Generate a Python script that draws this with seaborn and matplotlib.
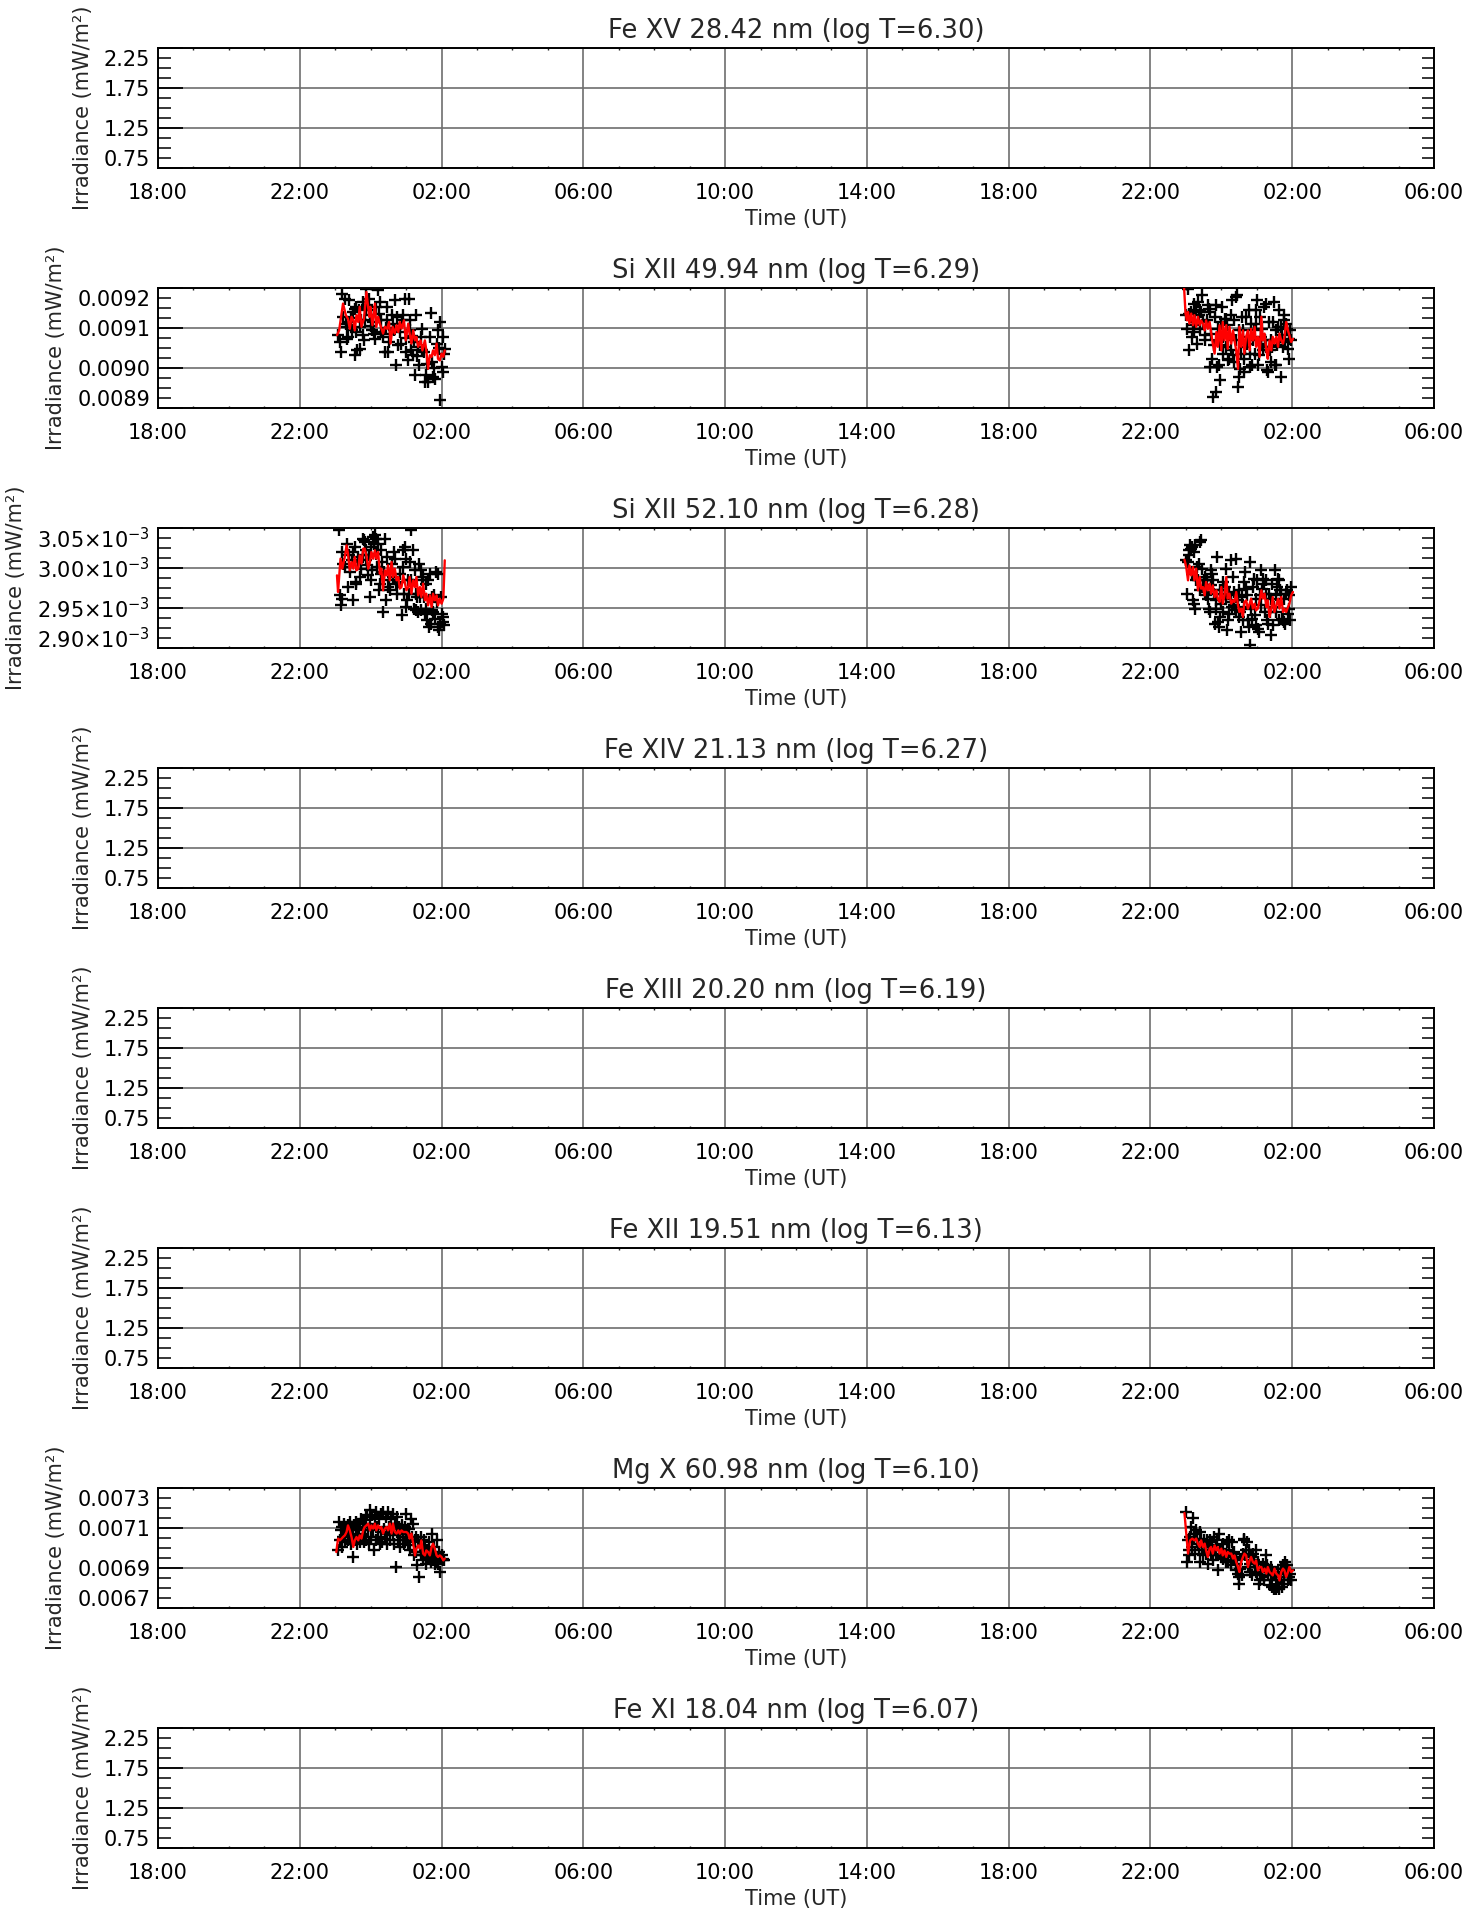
import numpy as np
import pandas as pd
import matplotlib
matplotlib.use("Agg")
import matplotlib.pyplot as plt
import matplotlib.ticker as mticker
import matplotlib.transforms as mtransforms
import seaborn as sns

# ---------------------------------------------------------------- data
titles = [
    "Fe XV 28.42 nm (log T=6.30)",
    "Si XII 49.94 nm (log T=6.29)",
    "Si XII 52.10 nm (log T=6.28)",
    "Fe XIV 21.13 nm (log T=6.27)",
    "Fe XIII 20.20 nm (log T=6.19)",
    "Fe XII 19.51 nm (log T=6.13)",
    "Mg X 60.98 nm (log T=6.10)",
    "Fe XI 18.04 nm (log T=6.07)",
]
# time axis: hours after 18:00 UT of the first day
hour_ticks = [0, 4, 8, 12, 16, 20, 24, 28, 32, 36]
hour_labels = ["18:00", "22:00", "02:00", "06:00", "10:00", "14:00",
               "18:00", "22:00", "02:00", "06:00"]

empty_ticks = [0.75, 1.25, 1.75, 2.25]
empty_labels = ["0.75", "1.25", "1.75", "2.25"]
si49_ticks = [0.0089, 0.0090, 0.0091, 0.0092]
si49_labels = ["0.0089", "0.0090", "0.0091", "0.0092"]
si52_ticks = [2.90e-3, 2.95e-3, 3.00e-3, 3.05e-3]
si52_labels = ["2.90×10$^{-3}$", "2.95×10$^{-3}$", "3.00×10$^{-3}$", "3.05×10$^{-3}$"]
mg10_ticks = [0.0067, 0.0069, 0.0071, 0.0073]
mg10_labels = ["0.0067", "0.0069", "0.0071", "0.0073"]

# irradiance values below are in units of 1e-3 mW/m^2
# ---- Si XII 49.94 nm, window 1 (points)
si49_t1 = [5.08, 5.13, 5.16, 5.19, 5.22, 5.27, 5.32, 5.34, 5.36, 5.39,
           5.41, 5.46, 5.51, 5.55, 5.55, 5.60, 5.62, 5.67, 5.69, 5.71,
           5.77, 5.79, 5.81, 5.83, 5.88, 5.91, 5.94, 5.98, 6.02, 6.05,
           6.07, 6.12, 6.16, 6.21, 6.24, 6.26, 6.30, 6.35, 6.40, 6.45,
           6.46, 6.49, 6.52, 6.59, 6.62, 6.68, 6.71, 6.73, 6.78, 6.82,
           6.87, 6.92, 6.96, 7.01, 7.06, 7.09, 7.10, 7.12, 7.15, 7.20,
           7.23, 7.25, 7.29, 7.34, 7.37, 7.41, 7.46, 7.50, 7.53, 7.57,
           7.62, 7.67, 7.69, 7.73, 7.76, 7.81, 7.86, 7.90, 7.95, 7.97,
           8.00, 8.03, 8.05, 8.09, 5.30, 5.44, 5.58, 5.74, 5.86, 6.00,
           6.10, 6.28, 6.42, 6.55, 6.65, 6.85, 6.99, 7.18, 7.32, 7.44,
           7.60, 7.78, 7.92, 8.07]
si49_v1 = [9.083, 9.065, 9.040, 9.186, 9.128, 9.173, 9.103, 9.073, 9.078, 9.169,
           9.115, 9.094, 9.140, 9.148, 9.032, 9.153, 9.044, 9.144, 9.103, 9.048,
           9.082, 9.165, 9.069, 9.119, 9.198, 9.157, 9.173, 9.132, 9.144, 9.094,
           9.115, 9.073, 9.153, 9.194, 9.136, 9.165, 9.090, 9.078, 9.040, 9.153,
           9.119, 9.040, 9.065, 9.132, 9.111, 9.169, 9.007, 9.128, 9.057, 9.090,
           9.119, 9.132, 9.173, 9.040, 9.019, 9.173, 9.119, 9.094, 9.044, 9.032,
           9.065, 8.983, 9.132, 9.053, 9.007, 9.078, 9.098, 9.040, 8.965, 8.982,
           8.965, 9.078, 9.138, 9.015, 8.978, 8.973, 9.061, 9.094, 9.115, 8.921,
           9.003, 9.078, 8.990, 9.048, 9.110, 9.125, 9.090, 9.120, 9.150, 9.105,
           9.085, 9.120, 9.100, 9.085, 9.095, 9.060, 9.075, 9.080, 9.030, 9.045,
           9.010, 9.000, 9.050, 9.035]
# ---- Si XII 49.94 nm, window 1 (smoothed, red)
si49_rt1 = [5.05, 5.11, 5.22, 5.30, 5.36, 5.41, 5.46, 5.51, 5.55, 5.60,
            5.65, 5.69, 5.74, 5.81, 5.88, 5.96, 5.99, 6.05, 6.12, 6.16,
            6.21, 6.26, 6.35, 6.40, 6.46, 6.52, 6.56, 6.62, 6.68, 6.73,
            6.78, 6.82, 6.87, 6.94, 6.99, 7.06, 7.10, 7.15, 7.20, 7.25,
            7.29, 7.34, 7.41, 7.46, 7.53, 7.57, 7.62, 7.67, 7.72, 7.76,
            7.81, 7.86, 7.90, 7.95, 8.00, 8.05, 8.09]
si49_rv1 = [9.082, 9.094, 9.161, 9.132, 9.123, 9.098, 9.128, 9.119, 9.094, 9.132,
            9.115, 9.153, 9.103, 9.123, 9.190, 9.128, 9.153, 9.107, 9.161, 9.103,
            9.128, 9.111, 9.086, 9.103, 9.098, 9.115, 9.061, 9.103, 9.086, 9.107,
            9.090, 9.115, 9.098, 9.119, 9.069, 9.111, 9.086, 9.061, 9.094, 9.069,
            9.078, 9.053, 9.069, 9.044, 9.069, 9.044, 8.998, 9.032, 9.028, 9.044,
            9.032, 9.061, 9.023, 9.019, 9.036, 9.028, 9.044]
# ---- Si XII 49.94 nm, window 2 (points)
si49_t2 = [29.01, 29.03, 29.06, 29.08, 29.10, 29.15, 29.18, 29.20, 29.22, 29.24,
           29.27, 29.29, 29.32, 29.34, 29.37, 29.39, 29.40, 29.43, 29.46, 29.48,
           29.53, 29.55, 29.59, 29.62, 29.65, 29.67, 29.69, 29.71, 29.74, 29.76,
           29.79, 29.81, 29.84, 29.86, 29.88, 29.90, 29.93, 29.95, 29.97, 30.00,
           30.02, 30.04, 30.06, 30.09, 30.12, 30.14, 30.17, 30.18, 30.21, 30.23,
           30.26, 30.28, 30.31, 30.33, 30.35, 30.37, 30.40, 30.42, 30.45, 30.47,
           30.49, 30.51, 30.54, 30.56, 30.59, 30.61, 30.64, 30.65, 30.68, 30.70,
           30.72, 30.75, 30.78, 30.80, 30.82, 30.84, 30.87, 30.89, 30.92, 30.94,
           30.97, 30.98, 31.01, 31.03, 31.06, 31.08, 31.11, 31.13, 31.15, 31.17,
           31.20, 31.22, 31.25, 31.27, 31.29, 31.31, 31.34, 31.36, 31.39, 31.41,
           31.44, 31.45, 31.48, 31.50, 31.53, 31.55, 31.58, 31.60, 31.62, 31.64,
           31.67, 31.69, 31.72, 31.74, 31.76, 31.78, 31.81, 31.83, 31.86, 31.88,
           31.91, 31.92, 31.94, 31.97]
si49_v2 = [9.132, 9.098, 9.198, 9.136, 9.044, 9.140, 9.078, 9.107, 9.090, 9.161,
           9.115, 9.144, 9.061, 9.165, 9.132, 9.098, 9.144, 9.140, 9.182, 9.115,
           9.082, 9.069, 9.119, 9.157, 9.148, 9.003, 9.140, 9.086, 9.023, 8.928,
           9.057, 9.128, 8.940, 9.157, 9.003, 9.098, 9.007, 8.969, 9.057, 9.115,
           9.153, 9.078, 9.036, 9.123, 9.053, 9.123, 9.107, 9.019, 9.082, 9.023,
           9.132, 9.044, 9.169, 9.032, 9.119, 9.015, 9.178, 9.069, 9.182, 8.953,
           8.978, 9.094, 8.998, 9.036, 9.128, 9.094, 8.990, 9.023, 9.053, 9.128,
           9.061, 9.078, 9.144, 9.003, 9.036, 9.111, 9.007, 9.069, 9.094, 9.036,
           9.144, 9.111, 9.169, 9.007, 9.032, 9.128, 9.061, 9.078, 9.098, 9.044,
           9.153, 9.069, 9.161, 9.053, 8.994, 8.990, 9.115, 9.044, 9.069, 9.015,
           9.053, 9.115, 9.165, 9.007, 9.007, 9.094, 9.057, 9.103, 9.144, 9.069,
           9.103, 8.978, 9.082, 9.053, 9.119, 9.132, 9.065, 9.111, 9.098, 9.048,
           9.073, 9.023, 9.094, 9.069]
# ---- Si XII 49.94 nm, window 2 (smoothed, red)
si49_rt2 = [28.94, 28.99, 29.03, 29.06, 29.10, 29.15, 29.20, 29.24, 29.29, 29.34,
            29.39, 29.43, 29.48, 29.53, 29.57, 29.62, 29.67, 29.71, 29.76, 29.81,
            29.86, 29.90, 29.95, 30.00, 30.04, 30.09, 30.14, 30.18, 30.23, 30.28,
            30.33, 30.37, 30.42, 30.47, 30.51, 30.56, 30.61, 30.65, 30.70, 30.75,
            30.80, 30.84, 30.89, 30.94, 30.98, 31.03, 31.08, 31.13, 31.17, 31.22,
            31.27, 31.31, 31.36, 31.41, 31.45, 31.50, 31.55, 31.60, 31.64, 31.69,
            31.74, 31.78, 31.83, 31.88, 31.92, 31.97, 32.02]
si49_rv2 = [9.215, 9.136, 9.119, 9.140, 9.111, 9.136, 9.107, 9.132, 9.103, 9.128,
            9.107, 9.119, 9.111, 9.094, 9.119, 9.098, 9.115, 9.090, 9.061, 9.036,
            9.090, 9.053, 9.107, 9.044, 9.115, 9.069, 9.107, 9.048, 9.103, 9.061,
            9.094, 9.069, 9.044, 8.998, 9.103, 9.053, 9.094, 9.036, 9.078, 9.094,
            9.044, 9.098, 9.069, 9.103, 9.053, 9.078, 9.028, 9.128, 9.069, 9.086,
            9.044, 9.023, 9.069, 9.044, 9.078, 9.061, 9.078, 9.053, 9.086, 9.069,
            9.061, 9.078, 9.115, 9.094, 9.082, 9.065, 9.073]

# ---- Si XII 52.10 nm, window 1 (points)
si52_t1 = [5.11, 5.13, 5.15, 5.18, 5.20, 5.22, 5.27, 5.32, 5.36, 5.39,
           5.41, 5.46, 5.49, 5.51, 5.55, 5.58, 5.60, 5.63, 5.65, 5.69,
           5.74, 5.77, 5.79, 5.82, 5.83, 5.86, 5.88, 5.91, 5.93, 5.96,
           5.98, 6.01, 6.02, 6.05, 6.07, 6.10, 6.12, 6.14, 6.16, 6.19,
           6.21, 6.24, 6.26, 6.29, 6.30, 6.33, 6.35, 6.38, 6.40, 6.43,
           6.45, 6.49, 6.52, 6.54, 6.59, 6.62, 6.65, 6.68, 6.71, 6.73,
           6.78, 6.82, 6.87, 6.90, 6.92, 6.93, 6.96, 6.99, 7.01, 7.03,
           7.06, 7.09, 7.10, 7.13, 7.15, 7.20, 7.22, 7.25, 7.27, 7.29,
           7.32, 7.34, 7.37, 7.39, 7.41, 7.43, 7.46, 7.48, 7.51, 7.53,
           7.56, 7.57, 7.59, 7.62, 7.65, 7.67, 7.70, 7.72, 7.74, 7.76,
           7.79, 7.81, 7.84, 7.86, 7.89, 7.90, 7.93, 7.95, 7.98, 8.00,
           8.03, 8.05, 8.07]
si52_v1 = [3.0471, 2.9658, 2.9533, 3.0200, 2.9617, 3.0054, 3.0012, 3.0304, 2.9762, 3.0158,
           2.9950, 3.0096, 2.9596, 3.0200, 3.0263, 2.9825, 2.9804, 3.0138, 3.0075, 2.9887,
           2.9992, 3.0158, 3.0367, 3.0346, 3.0325, 3.0221, 3.0096, 3.0033, 2.9908, 3.0158,
           2.9637, 2.9846, 3.0263, 2.9971, 3.0388, 3.0304, 3.0408, 3.0367, 3.0179, 3.0012,
           3.0304, 2.9721, 2.9804, 2.9929, 3.0221, 3.0075, 2.9450, 2.9950, 3.0367, 2.9596,
           3.0138, 2.9762, 2.9846, 2.9721, 3.0054, 2.9887, 3.0200, 3.0117, 2.9804, 2.9679,
           2.9825, 2.9929, 2.9408, 3.0012, 3.0221, 2.9679, 3.0263, 2.9512, 3.0117, 2.9596,
           2.9846, 2.9679, 3.0075, 3.0471, 2.9846, 3.0221, 2.9492, 2.9971, 2.9471, 2.9679,
           2.9637, 2.9450, 3.0054, 2.9637, 2.9971, 2.9471, 2.9846, 2.9887, 2.9637, 2.9429,
           2.9804, 2.9492, 2.9346, 2.9846, 2.9262, 2.9929, 2.9304, 2.9471, 2.9637, 2.9450,
           2.9658, 2.9367, 2.9950, 2.9575, 2.9929, 2.9262, 2.9221, 2.9304, 2.9637, 2.9429,
           2.9325, 2.9388, 2.9283]
# ---- Si XII 52.10 nm, window 1 (smoothed, red)
si52_rt1 = [5.05, 5.08, 5.11, 5.15, 5.20, 5.27, 5.32, 5.36, 5.41, 5.46,
            5.51, 5.55, 5.60, 5.65, 5.69, 5.74, 5.79, 5.83, 5.88, 5.93,
            5.98, 6.02, 6.07, 6.12, 6.16, 6.21, 6.26, 6.30, 6.35, 6.40,
            6.45, 6.49, 6.54, 6.59, 6.63, 6.68, 6.73, 6.78, 6.82, 6.87,
            6.92, 6.96, 7.01, 7.06, 7.10, 7.15, 7.20, 7.25, 7.29, 7.34,
            7.39, 7.43, 7.48, 7.53, 7.57, 7.62, 7.67, 7.72, 7.76, 7.81,
            7.86, 7.90, 7.95, 8.00, 8.05, 8.09]
si52_rv1 = [2.9908, 2.9700, 2.9887, 3.0117, 2.9992, 3.0138, 3.0283, 3.0179, 2.9971, 3.0075,
            2.9992, 3.0138, 2.9971, 2.9992, 3.0158, 3.0054, 3.0242, 3.0242, 3.0158, 2.9992,
            3.0075, 3.0200, 3.0117, 3.0221, 3.0117, 3.0200, 2.9929, 2.9992, 2.9721, 2.9971,
            2.9908, 3.0033, 2.9846, 3.0075, 2.9887, 2.9992, 2.9846, 2.9887, 2.9742, 2.9762,
            2.9908, 2.9825, 2.9721, 2.9762, 2.9887, 2.9679, 2.9846, 2.9762, 2.9887, 2.9658,
            2.9762, 2.9637, 2.9804, 2.9596, 2.9679, 2.9533, 2.9658, 2.9512, 2.9679, 2.9596,
            2.9658, 2.9533, 2.9617, 2.9554, 2.9617, 3.0096]
# ---- Si XII 52.10 nm, window 2 (points)
si52_t2 = [29.01, 29.04, 29.06, 29.08, 29.10, 29.12, 29.15, 29.17, 29.18, 29.20,
           29.22, 29.23, 29.25, 29.27, 29.29, 29.32, 29.34, 29.37, 29.39, 29.40,
           29.43, 29.45, 29.48, 29.51, 29.53, 29.55, 29.57, 29.59, 29.62, 29.65,
           29.67, 29.70, 29.71, 29.74, 29.76, 29.78, 29.81, 29.84, 29.86, 29.88,
           29.90, 29.93, 29.95, 29.97, 30.00, 30.02, 30.04, 30.06, 30.09, 30.12,
           30.14, 30.17, 30.18, 30.21, 30.23, 30.26, 30.28, 30.31, 30.33, 30.35,
           30.37, 30.40, 30.42, 30.45, 30.47, 30.49, 30.51, 30.54, 30.56, 30.59,
           30.61, 30.64, 30.65, 30.68, 30.70, 30.72, 30.75, 30.78, 30.80, 30.82,
           30.84, 30.87, 30.89, 30.92, 30.94, 30.97, 30.98, 31.01, 31.03, 31.06,
           31.08, 31.11, 31.13, 31.15, 31.17, 31.20, 31.22, 31.25, 31.27, 31.29,
           31.31, 31.34, 31.36, 31.39, 31.41, 31.44, 31.45, 31.48, 31.50, 31.53,
           31.55, 31.58, 31.60, 31.62, 31.64, 31.66, 31.69, 31.72, 31.74, 31.76,
           31.78, 31.81, 31.83, 31.86, 31.88, 31.91, 31.92, 31.95, 31.97]
si52_v2 = [3.0096, 2.9679, 3.0075, 3.0158, 3.0221, 3.0283, 3.0242, 2.9929, 3.0263, 2.9596,
           3.0200, 2.9554, 2.9492, 3.0283, 2.9846, 3.0012, 2.9846, 3.0054, 2.9721, 3.0325,
           3.0346, 2.9992, 2.9762, 2.9846, 2.9700, 2.9887, 2.9658, 2.9846, 2.9617, 2.9492,
           2.9450, 2.9783, 2.9971, 2.9929, 2.9846, 2.9679, 2.9304, 2.9492, 2.9596, 3.0138,
           2.9325, 2.9262, 2.9721, 2.9388, 2.9554, 2.9721, 2.9825, 2.9450, 2.9762, 2.9992,
           2.9617, 2.9221, 2.9346, 2.9679, 2.9429, 3.0096, 2.9575, 2.9512, 2.9887, 2.9533,
           2.9700, 2.9471, 3.0117, 2.9658, 2.9596, 2.9388, 2.9721, 2.9450, 2.9200, 2.9637,
           2.9346, 2.9825, 2.9512, 2.9950, 2.9742, 2.9658, 2.9346, 2.9262, 3.0075, 2.9033,
           2.9492, 2.9367, 2.9762, 2.9867, 2.9408, 2.9617, 2.9283, 2.9846, 2.9242, 2.9200,
           2.9658, 2.9971, 2.9533, 2.9742, 2.9867, 2.9804, 2.9450, 2.9846, 2.9679, 2.9346,
           2.9304, 2.9679, 2.9450, 2.9158, 2.9617, 2.9804, 2.9283, 2.9512, 2.9971, 2.9450,
           2.9658, 2.9762, 2.9867, 2.9846, 2.9346, 2.9721, 2.9679, 2.9367, 2.9346, 2.9617,
           2.9325, 2.9304, 2.9679, 2.9721, 2.9429, 2.9492, 2.9658, 2.9346, 2.9762]
# ---- Si XII 52.10 nm, window 2 (smoothed, red)
si52_rt2 = [28.96, 29.01, 29.06, 29.10, 29.15, 29.20, 29.24, 29.29, 29.34, 29.39,
            29.43, 29.48, 29.53, 29.57, 29.62, 29.67, 29.71, 29.76, 29.81, 29.86,
            29.90, 29.95, 30.00, 30.04, 30.09, 30.14, 30.18, 30.23, 30.28, 30.33,
            30.37, 30.42, 30.47, 30.51, 30.56, 30.61, 30.65, 30.70, 30.75, 30.80,
            30.84, 30.89, 30.94, 30.98, 31.03, 31.08, 31.13, 31.17, 31.22, 31.27,
            31.31, 31.36, 31.41, 31.45, 31.50, 31.55, 31.60, 31.64, 31.69, 31.74,
            31.78, 31.83, 31.88, 31.92, 31.97, 32.02]
si52_rv2 = [3.0104, 3.0012, 2.9846, 3.0033, 2.9908, 3.0012, 2.9846, 2.9992, 2.9721, 2.9887,
            2.9742, 2.9762, 2.9658, 2.9825, 2.9721, 2.9804, 2.9679, 2.9783, 2.9637, 2.9721,
            2.9617, 2.9575, 2.9762, 2.9554, 2.9658, 2.9887, 2.9617, 2.9679, 2.9554, 2.9596,
            2.9575, 2.9700, 2.9533, 2.9450, 2.9492, 2.9388, 2.9575, 2.9596, 2.9492, 2.9554,
            2.9617, 2.9492, 2.9554, 2.9471, 2.9492, 2.9596, 2.9721, 2.9617, 2.9679, 2.9512,
            2.9596, 2.9388, 2.9492, 2.9637, 2.9450, 2.9533, 2.9617, 2.9492, 2.9637, 2.9450,
            2.9492, 2.9450, 2.9512, 2.9554, 2.9658, 2.9700]

# ---- Mg X 60.98 nm, window 1 (points)
mg10_t1 = [5.08, 5.11, 5.13, 5.15, 5.18, 5.20, 5.22, 5.25, 5.27, 5.30,
           5.32, 5.35, 5.36, 5.39, 5.41, 5.44, 5.46, 5.49, 5.51, 5.52,
           5.55, 5.58, 5.60, 5.62, 5.65, 5.67, 5.69, 5.71, 5.74, 5.77,
           5.79, 5.81, 5.83, 5.86, 5.88, 5.90, 5.93, 5.96, 5.98, 5.99,
           6.02, 6.05, 6.07, 6.10, 6.12, 6.14, 6.16, 6.18, 6.21, 6.24,
           6.26, 6.28, 6.30, 6.33, 6.35, 6.37, 6.40, 6.43, 6.45, 6.46,
           6.49, 6.52, 6.54, 6.56, 6.59, 6.62, 6.63, 6.65, 6.68, 6.71,
           6.73, 6.75, 6.78, 6.80, 6.82, 6.84, 6.87, 6.90, 6.92, 6.93,
           6.96, 6.99, 7.01, 7.03, 7.06, 7.09, 7.10, 7.12, 7.15, 7.18,
           7.20, 7.22, 7.25, 7.27, 7.29, 7.31, 7.34, 7.37, 7.39, 7.41,
           7.43, 7.46, 7.48, 7.50, 7.53, 7.56, 7.57, 7.59, 7.62, 7.65,
           7.67, 7.69, 7.72, 7.74, 7.76, 7.78, 7.81, 7.84, 7.86, 7.88,
           7.90, 7.93, 7.95, 7.97, 8.00, 8.03, 8.05, 8.07]
mg10_v1 = [6.988, 7.130, 7.038, 7.088, 7.005, 7.105, 7.055, 7.122, 7.030, 7.080,
           7.105, 7.038, 7.113, 7.072, 7.130, 7.022, 7.097, 6.955, 7.055, 7.113,
           7.038, 7.088, 7.130, 7.022, 7.097, 7.063, 7.122, 7.030, 7.147, 7.072,
           7.138, 7.030, 7.105, 7.155, 7.038, 7.163, 7.088, 7.022, 7.188, 7.122,
           7.055, 7.163, 7.088, 6.988, 7.155, 7.038, 7.180, 7.105, 7.055, 7.147,
           7.022, 7.172, 7.080, 7.030, 7.180, 7.097, 7.047, 7.155, 7.072, 7.022,
           7.180, 7.105, 7.038, 7.147, 7.097, 7.172, 7.063, 7.022, 7.122, 6.905,
           7.080, 7.155, 7.038, 7.105, 7.072, 7.005, 7.113, 7.055, 7.088, 7.022,
           7.105, 7.038, 7.172, 7.072, 7.013, 7.097, 7.038, 6.988, 7.147, 7.055,
           7.122, 6.963, 7.038, 6.980, 7.055, 6.913, 7.038, 6.855, 7.005, 6.963,
           7.055, 6.980, 6.938, 7.038, 6.997, 6.955, 6.922, 6.988, 6.947, 7.030,
           6.963, 6.930, 6.972, 7.072, 6.938, 7.005, 6.922, 6.955, 6.930, 7.038,
           6.922, 6.980, 6.880, 6.947, 6.963, 6.938, 6.947, 6.938]
# ---- Mg X 60.98 nm, window 1 (smoothed, red)
mg10_rt1 = [5.03, 5.08, 5.13, 5.18, 5.22, 5.27, 5.32, 5.36, 5.41, 5.46,
            5.51, 5.55, 5.60, 5.65, 5.69, 5.74, 5.79, 5.83, 5.88, 5.93,
            5.98, 6.02, 6.07, 6.12, 6.16, 6.21, 6.26, 6.30, 6.35, 6.40,
            6.45, 6.49, 6.54, 6.59, 6.63, 6.68, 6.73, 6.78, 6.82, 6.87,
            6.92, 6.96, 7.01, 7.06, 7.10, 7.15, 7.20, 7.25, 7.29, 7.34,
            7.39, 7.43, 7.48, 7.53, 7.57, 7.62, 7.67, 7.72, 7.76, 7.81,
            7.86, 7.90, 7.95, 8.00, 8.05, 8.09]
mg10_rv1 = [6.980, 7.047, 7.038, 7.047, 7.055, 7.063, 7.080, 7.113, 7.088, 7.055,
            7.005, 7.038, 7.055, 7.038, 7.063, 7.047, 7.088, 7.105, 7.113, 7.122,
            7.088, 7.113, 7.097, 7.122, 7.088, 7.113, 7.097, 7.105, 7.072, 7.097,
            7.105, 7.088, 7.122, 7.072, 7.122, 7.080, 7.072, 7.088, 7.072, 7.088,
            7.080, 7.080, 7.080, 7.072, 7.047, 7.072, 7.022, 6.963, 6.997, 7.013,
            6.997, 7.038, 6.972, 6.963, 6.988, 6.980, 6.963, 7.005, 7.022, 6.997,
            6.963, 6.955, 6.963, 6.955, 6.938, 6.947]
# ---- Mg X 60.98 nm, window 2 (points)
mg10_t2 = [29.01, 29.03, 29.06, 29.08, 29.10, 29.12, 29.15, 29.18, 29.20, 29.22,
           29.24, 29.27, 29.29, 29.31, 29.34, 29.37, 29.39, 29.40, 29.43, 29.46,
           29.48, 29.50, 29.53, 29.55, 29.57, 29.59, 29.62, 29.65, 29.67, 29.70,
           29.71, 29.74, 29.76, 29.78, 29.81, 29.84, 29.86, 29.88, 29.90, 29.93,
           29.95, 29.97, 30.00, 30.02, 30.04, 30.06, 30.09, 30.12, 30.14, 30.17,
           30.18, 30.21, 30.23, 30.26, 30.28, 30.31, 30.33, 30.35, 30.37, 30.40,
           30.42, 30.45, 30.47, 30.49, 30.51, 30.54, 30.56, 30.59, 30.61, 30.64,
           30.65, 30.68, 30.70, 30.72, 30.75, 30.78, 30.80, 30.82, 30.84, 30.87,
           30.89, 30.92, 30.94, 30.97, 30.98, 31.01, 31.03, 31.06, 31.08, 31.11,
           31.13, 31.15, 31.17, 31.20, 31.22, 31.25, 31.27, 31.29, 31.31, 31.34,
           31.36, 31.39, 31.41, 31.44, 31.45, 31.48, 31.50, 31.53, 31.55, 31.58,
           31.60, 31.62, 31.64, 31.67, 31.69, 31.72, 31.74, 31.76, 31.78, 31.81,
           31.83, 31.86, 31.88, 31.91, 31.92, 31.95, 31.97]
mg10_v2 = [7.180, 6.930, 7.038, 6.963, 6.988, 7.055, 7.105, 7.005, 7.152, 7.047,
           7.072, 6.972, 7.088, 7.038, 7.022, 6.988, 7.080, 6.930, 7.047, 7.005,
           6.963, 7.038, 7.022, 7.005, 6.972, 7.038, 6.922, 6.988, 7.038, 7.005,
           6.963, 7.030, 6.938, 7.055, 6.988, 7.013, 6.963, 7.038, 6.888, 7.072,
           6.972, 6.997, 6.955, 6.988, 6.947, 7.022, 6.963, 6.930, 6.972, 7.030,
           6.930, 7.038, 6.988, 6.955, 6.913, 7.030, 6.972, 6.938, 6.980, 6.888,
           6.955, 6.922, 6.872, 6.822, 6.855, 6.897, 6.947, 6.863, 6.972, 7.047,
           7.038, 6.963, 6.988, 7.030, 6.905, 6.988, 6.922, 6.880, 6.955, 6.863,
           6.972, 6.938, 6.905, 6.880, 6.988, 6.872, 6.930, 6.822, 6.838, 6.897,
           6.880, 6.863, 6.922, 6.838, 6.905, 6.880, 6.963, 6.913, 6.863, 6.888,
           6.813, 6.905, 6.838, 6.805, 6.872, 6.797, 6.863, 6.797, 6.855, 6.805,
           6.880, 6.838, 6.797, 6.897, 6.855, 6.805, 6.913, 6.872, 6.822, 6.930,
           6.880, 6.913, 6.838, 6.855, 6.888, 6.872, 6.838]
# ---- Mg X 60.98 nm, window 2 (smoothed, red)
mg10_rt2 = [28.96, 29.06, 29.12, 29.18, 29.24, 29.29, 29.34, 29.39, 29.43, 29.48,
            29.53, 29.57, 29.62, 29.67, 29.71, 29.76, 29.81, 29.86, 29.90, 29.95,
            30.00, 30.04, 30.09, 30.14, 30.18, 30.23, 30.28, 30.33, 30.37, 30.42,
            30.47, 30.51, 30.56, 30.61, 30.65, 30.70, 30.75, 30.80, 30.84, 30.89,
            30.94, 30.98, 31.03, 31.08, 31.13, 31.17, 31.22, 31.27, 31.31, 31.36,
            31.41, 31.45, 31.50, 31.55, 31.60, 31.64, 31.69, 31.74, 31.78, 31.83,
            31.88, 31.92, 31.97, 32.02]
mg10_rv2 = [7.175, 6.972, 7.038, 7.047, 7.038, 7.047, 7.022, 7.005, 7.038, 7.005,
            7.022, 6.988, 6.955, 6.997, 7.005, 6.972, 7.013, 6.988, 7.005, 6.972,
            6.997, 6.963, 6.988, 6.955, 6.980, 6.972, 6.972, 6.947, 6.963, 6.930,
            6.905, 6.880, 6.930, 6.955, 6.972, 6.963, 6.905, 6.938, 6.955, 6.930,
            6.922, 6.938, 6.888, 6.905, 6.905, 6.880, 6.897, 6.872, 6.905, 6.880,
            6.872, 6.863, 6.897, 6.872, 6.863, 6.838, 6.880, 6.897, 6.888, 6.855,
            6.880, 6.905, 6.880, 6.888]


def frame(t1, v1, t2, v2):
    """Two observing windows -> tidy frame (irradiance converted to mW/m^2)."""
    return pd.DataFrame({
        "t": list(t1) + list(t2),
        "irr": (np.array(list(v1) + list(v2)) * 1e-3),
        "win": [1] * len(t1) + [2] * len(t2),
    })


series = {
    1: (frame(si49_t1, si49_v1, si49_t2, si49_v2),
        frame(si49_rt1, si49_rv1, si49_rt2, si49_rv2)),
    2: (frame(si52_t1, si52_v1, si52_t2, si52_v2),
        frame(si52_rt1, si52_rv1, si52_rt2, si52_rv2)),
    6: (frame(mg10_t1, mg10_v1, mg10_t2, mg10_v2),
        frame(mg10_rt1, mg10_rv1, mg10_rt2, mg10_rv2)),
}
yaxes = {1: (si49_ticks, si49_labels), 2: (si52_ticks, si52_labels),
         6: (mg10_ticks, mg10_labels)}

# ---------------------------------------------------------------- style
sns.set_style("white")
plt.rcParams["font.family"] = ["DejaVu Sans"]
plt.rcParams["mathtext.fontset"] = "dejavusans"

W, H = 1481, 1910
FS = 15.0
fig = plt.figure(figsize=(W / 100, H / 100), dpi=100)

for i, title in enumerate(titles):
    top = 48 + 240 * i
    ax = fig.add_axes([158 / W, (H - top - 120) / H, 1276 / W, 120 / H])
    ticks, labels = yaxes.get(i, (empty_ticks, empty_labels))

    if i in series:
        pts, red = series[i]
        sns.scatterplot(data=pts, x="t", y="irr", marker="+", color="black",
                        s=64, linewidth=1.7, ax=ax, legend=False, zorder=3)
        sns.lineplot(data=red, x="t", y="irr", units="win", estimator=None,
                     sort=False, color="red", linewidth=1.7, ax=ax,
                     legend=False, zorder=4)

    ax.set_xlim(hour_ticks[0], hour_ticks[-1])
    ax.set_ylim(ticks[0], ticks[-1])
    ax.set_xticks(hour_ticks)
    ax.set_xticklabels(hour_labels)
    ax.xaxis.set_minor_locator(mticker.MultipleLocator(1))
    ax.set_yticks(ticks)
    ax.set_yticklabels(labels)
    ax.yaxis.set_minor_locator(mticker.AutoMinorLocator(4))

    ax.grid(True, which="major", color="#6e6e6e", linewidth=1.2)
    ax.set_axisbelow(True)
    for s in ax.spines.values():
        s.set_color("black")
        s.set_linewidth(1.4)
        s.set_visible(True)

    ax.tick_params(axis="y", which="major", direction="in", length=18,
                   width=1.3, left=True, right=True, labelsize=FS, pad=5.5,
                   colors="black")
    ax.tick_params(axis="y", which="minor", direction="in", length=9,
                   width=1.3, left=True, right=True)
    ax.tick_params(axis="x", which="major", direction="in", length=0,
                   labelsize=FS, pad=11, colors="black")
    ax.tick_params(axis="x", which="minor", direction="in", length=1.5,
                   width=1.0, top=True, bottom=True)

    # the outermost labels sit slightly inside the frame, as in the original
    ylabs = ax.get_yticklabels()
    shift = 10 / 100
    ylabs[-1].set_transform(ylabs[-1].get_transform() +
                            mtransforms.ScaledTranslation(0, -shift, fig.dpi_scale_trans))
    ylabs[0].set_transform(ylabs[0].get_transform() +
                           mtransforms.ScaledTranslation(0, shift, fig.dpi_scale_trans))

    ax.set_title(title, fontsize=18.6, pad=7)
    ax.set_ylabel("Irradiance (mW/m²)", fontsize=FS, labelpad=8)
    ax.set_xlabel("Time (UT)", fontsize=FS, labelpad=4)

fig.savefig("out.png", dpi=100)
